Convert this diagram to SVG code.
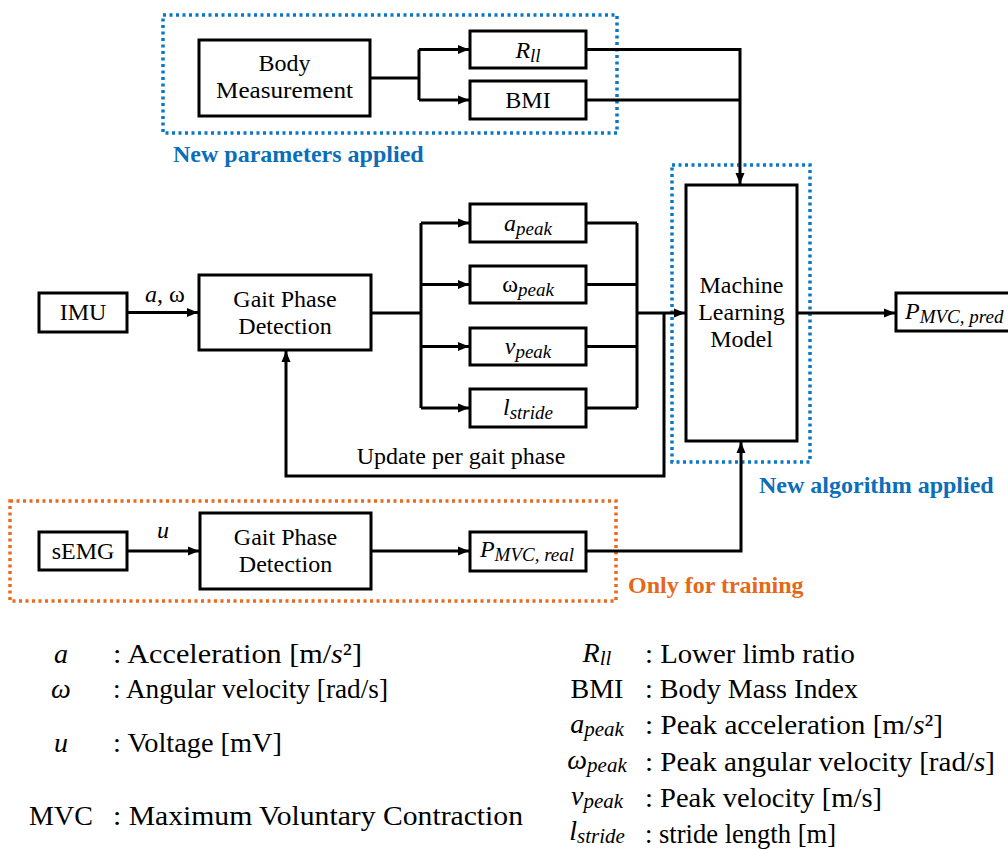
<svg xmlns="http://www.w3.org/2000/svg" width="1008" height="849" viewBox="0 0 1008 849">
  <defs>
    <marker id="arrow" markerUnits="userSpaceOnUse" markerWidth="12" markerHeight="10" refX="11" refY="5" orient="auto">
      <path d="M0,0.5 L11,5 L0,9.5 z" fill="#000"/>
    </marker>
    <style>
      .box { fill: #fff; stroke: #000; stroke-width: 3; }
      .ln { fill: none; stroke: #000; stroke-width: 3; }
      .arr { fill: none; stroke: #000; stroke-width: 3; marker-end: url(#arrow); }
      .t { font-family: "Liberation Serif", "Times New Roman", serif; font-size: 24px; fill: #000; }
      .c { text-anchor: middle; }
      .i { font-style: italic; }
      .sub { font-size: 19px; font-style: italic; }
      .lsub { font-size: 21px; font-style: italic; }
      .lg { font-family: "Liberation Serif", "Times New Roman", serif; font-size: 28px; fill: #000; }
      .dotB { fill: none; stroke: #0A78C8; stroke-width: 3.5; stroke-dasharray: 3 3.5; }
      .dotO { fill: none; stroke: #EB6A1E; stroke-width: 3.5; stroke-dasharray: 3 3.5; }
      .hb { font-family: "Liberation Serif", "Times New Roman", serif; font-size: 24px; font-weight: bold; fill: #0A6EB8; }
      .ho { font-family: "Liberation Serif", "Times New Roman", serif; font-size: 24px; font-weight: bold; fill: #E5681A; }
    </style>
  </defs>
  <rect width="1008" height="849" fill="#fff"/>

  <!-- highlighted regions -->
  <g id="regions">
    <rect class="dotB" x="163" y="15" width="454" height="118"/>
    <text class="hb" x="173" y="162">New parameters applied</text>
    <rect class="dotB" x="672" y="165" width="138" height="297"/>
    <text class="hb" x="759" y="493">New algorithm applied</text>
    <rect class="dotO" x="10" y="501" width="606" height="100"/>
    <text class="ho" x="628" y="593">Only for training</text>
  </g>

  <!-- connectors -->
  <g id="connectors">
    <path class="ln" d="M370,78 H419 M419,49.5 V100"/>
    <path class="arr" d="M419,49.5 H469"/>
    <path class="arr" d="M419,100 H469"/>
    <path class="ln" d="M586,100 H740"/>
    <path class="arr" d="M586,49.5 H740 V184"/>

    <path class="arr" d="M127,312.5 H198"/>
    <text class="t" x="145" y="302"><tspan class="i">a</tspan>, ω</text>

    <path class="ln" d="M371,313 H421 M421,223 V408"/>
    <path class="arr" d="M421,223 H469"/>
    <path class="arr" d="M421,284.5 H469"/>
    <path class="arr" d="M421,346.5 H469"/>
    <path class="arr" d="M421,408 H469"/>
    <path class="ln" d="M586,223 H637 M586,284.5 H637 M586,346.5 H637 M586,408 H637 M637,223 V408"/>
    <path class="arr" d="M637,313 H685"/>

    <path class="arr" d="M664,313 V476 H286 V351"/>
    <text class="t c" x="461" y="464">Update per gait phase</text>

    <path class="arr" d="M797,313 H895"/>

    <path class="arr" d="M127,551 H199"/>
    <text class="t i" x="157" y="538">u</text>
    <path class="arr" d="M371,551 H469"/>
    <path class="arr" d="M586,551 H741 V442"/>
  </g>

  <!-- body parameters -->
  <g id="body-measurement">
    <rect class="box" x="199" y="40" width="171" height="76"/>
    <text class="t c" x="284.5" y="71">Body</text>
    <text class="t c" x="284.5" y="98" textLength="137" lengthAdjust="spacingAndGlyphs">Measurement</text>
  </g>
  <g id="r-ll">
    <rect class="box" x="470" y="31" width="116" height="37"/>
    <text class="t c" x="528" y="58"><tspan class="i">R</tspan><tspan class="sub" dy="4">ll</tspan></text>
  </g>
  <g id="bmi">
    <rect class="box" x="470" y="81" width="116" height="38"/>
    <text class="t c" x="528" y="108">BMI</text>
  </g>

  <!-- IMU path -->
  <g id="imu">
    <rect class="box" x="39" y="293" width="88" height="39"/>
    <text class="t c" x="83" y="320">IMU</text>
  </g>
  <g id="gait-imu">
    <rect class="box" x="199" y="275" width="172" height="75"/>
    <text class="t c" x="285" y="307">Gait Phase</text>
    <text class="t c" x="285" y="334">Detection</text>
  </g>
  <g id="a-peak">
    <rect class="box" x="470" y="204" width="116" height="38"/>
    <text class="t c" x="528" y="231"><tspan class="i">a</tspan><tspan class="sub" dy="4">peak</tspan></text>
  </g>
  <g id="omega-peak">
    <rect class="box" x="470" y="266" width="116" height="37"/>
    <text class="t c" x="528" y="292">ω<tspan class="sub" dy="4">peak</tspan></text>
  </g>
  <g id="v-peak">
    <rect class="box" x="470" y="328" width="116" height="37"/>
    <text class="t c" x="528" y="354"><tspan class="i">v</tspan><tspan class="sub" dy="4">peak</tspan></text>
  </g>
  <g id="l-stride">
    <rect class="box" x="470" y="389" width="116" height="38"/>
    <text class="t c" x="528" y="415"><tspan class="i">l</tspan><tspan class="sub" dy="4">stride</tspan></text>
  </g>

  <!-- model and output -->
  <g id="ml-model">
    <rect class="box" x="686" y="185" width="111" height="256"/>
    <text class="t c" x="741.5" y="293">Machine</text>
    <text class="t c" x="741.5" y="320">Learning</text>
    <text class="t c" x="741.5" y="347">Model</text>
  </g>
  <g id="p-pred">
    <rect class="box" x="896" y="293" width="120" height="38"/>
    <text class="t" x="905" y="319"><tspan class="i">P</tspan><tspan class="sub" dy="4">MVC, pred</tspan></text>
  </g>

  <!-- sEMG path -->
  <g id="semg">
    <rect class="box" x="39" y="532" width="88" height="38"/>
    <text class="t c" x="83" y="559">sEMG</text>
  </g>
  <g id="gait-semg">
    <rect class="box" x="200" y="513" width="171" height="76"/>
    <text class="t c" x="285.5" y="545">Gait Phase</text>
    <text class="t c" x="285.5" y="572">Detection</text>
  </g>
  <g id="p-real">
    <rect class="box" x="470" y="532" width="116" height="39"/>
    <text class="t c" x="527" y="557"><tspan class="i">P</tspan><tspan class="sub" dy="4">MVC, real</tspan></text>
  </g>

  <!-- symbol legend -->
  <g id="legend-left">
    <text class="lg i c" x="61" y="663">a</text>
    <text class="lg" x="113" y="663" textLength="249" lengthAdjust="spacingAndGlyphs">: Acceleration [m/<tspan class="i">s</tspan>²]</text>
    <text class="lg i c" x="61" y="698">ω</text>
    <text class="lg" x="113" y="698" textLength="275" lengthAdjust="spacingAndGlyphs">: Angular velocity [rad/s]</text>
    <text class="lg i c" x="61" y="752">u</text>
    <text class="lg" x="113" y="752" textLength="169" lengthAdjust="spacingAndGlyphs">: Voltage [mV]</text>
    <text class="lg c" x="61" y="825">MVC</text>
    <text class="lg" x="113" y="825" textLength="410" lengthAdjust="spacingAndGlyphs">: Maximum Voluntary Contraction</text>
  </g>
  <g id="legend-right">
    <text class="lg c" x="597" y="662"><tspan class="i">R</tspan><tspan class="lsub" dy="3">ll</tspan></text>
    <text class="lg" x="645" y="663" textLength="210" lengthAdjust="spacingAndGlyphs">: Lower limb ratio</text>
    <text class="lg c" x="597" y="698">BMI</text>
    <text class="lg" x="645" y="698" textLength="213" lengthAdjust="spacingAndGlyphs">: Body Mass Index</text>
    <text class="lg c" x="597" y="733"><tspan class="i">a</tspan><tspan class="lsub" dy="3">peak</tspan></text>
    <text class="lg" x="645" y="734" textLength="298" lengthAdjust="spacingAndGlyphs">: Peak acceleration [m/<tspan class="i">s</tspan>²]</text>
    <text class="lg c" x="597" y="769"><tspan class="i">ω</tspan><tspan class="lsub" dy="3">peak</tspan></text>
    <text class="lg" x="645" y="771" textLength="350" lengthAdjust="spacingAndGlyphs">: Peak angular velocity [rad/<tspan class="i">s</tspan>]</text>
    <text class="lg c" x="597" y="805"><tspan class="i">v</tspan><tspan class="lsub" dy="3">peak</tspan></text>
    <text class="lg" x="645" y="807" textLength="237" lengthAdjust="spacingAndGlyphs">: Peak velocity [m/s]</text>
    <text class="lg c" x="597" y="840"><tspan class="i">l</tspan><tspan class="lsub" dy="3">stride</tspan></text>
    <text class="lg" x="645" y="843" textLength="191" lengthAdjust="spacingAndGlyphs">: stride length [m]</text>
  </g>
</svg>
